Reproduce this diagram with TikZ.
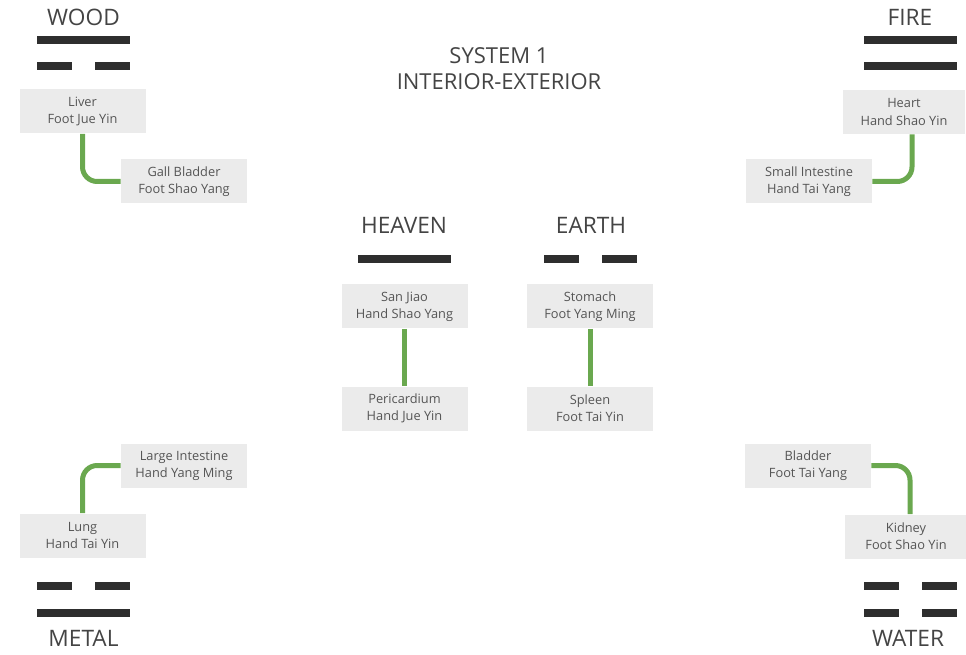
\documentclass[tikz,border=0pt]{standalone}
\usepackage{fontspec}
\setmainfont{Open Sans}
\usepackage{xcolor}
\definecolor{boxgray}{HTML}{EBEBEB}
\definecolor{boxtext}{HTML}{555555}
\definecolor{headtext}{HTML}{444444}
\definecolor{barcol}{HTML}{2E2E2E}
\definecolor{linkgreen}{HTML}{6AA84F}

% trigram lines: full (yang) and broken (yin), centred at (x,y)
\newcommand{\yangline}[2]{\fill[barcol] (#1-46.5,#2-4) rectangle (#1+46.5,#2+4);}
\newcommand{\yinline}[2]{%
  \fill[barcol] (#1-46.5,#2-4) rectangle (#1-11.5,#2+4);
  \fill[barcol] (#1+11.5,#2-4) rectangle (#1+46.5,#2+4);}

\begin{document}
\begin{tikzpicture}[x=0.75pt, y=-0.75pt,
  organ/.style={fill=boxgray, minimum width=94.5pt, minimum height=33pt,
                inner sep=1pt, align=center, text=boxtext,
                font=\fontsize{9.6}{12.8}\selectfont},
  phase/.style={text=headtext, font=\fontsize{17}{20}\selectfont},
  link/.style={draw=linkgreen, line width=3.75pt, rounded corners=11pt}]
  \useasboundingbox (0,0) rectangle (966,655);

  % title
  \node[phase, align=center, font=\fontsize{16.5}{19.5}\selectfont] (title) at (499,69)
    {SYSTEM 1\\INTERIOR-EXTERIOR};

  % wood
  \node[phase] (wood) at (83.5,17) {WOOD};
  \yangline{83.5}{40}
  \yinline{83.5}{66}
  \node[organ] (liver) at (82.5,111.5) {Liver\\Foot Jue Yin};
  \node[organ] (gall) at (184,181.5) {Gall Bladder\\Foot Shao Yang};
  \draw[link] (liver.south) |- (gall.west);

  % fire
  \node[phase] (fire) at (910,17) {FIRE};
  \yangline{910}{40}
  \yangline{910}{66}
  \node[organ, minimum width=92pt] (heart) at (904,112) {Heart\\Hand Shao Yin};
  \node[organ] (smallint) at (809,181.5) {Small Intestine\\Hand Tai Yang};
  \draw[link] ([xshift=6pt]heart.south) |- (smallint.east);

  % heaven and earth
  \node[phase] (heaven) at (404,225) {HEAVEN};
  \yangline{404.5}{259}
  \node[organ] (sanjiao) at (404.5,306.5) {San Jiao\\Hand Shao Yang};
  \node[organ] (peric) at (404.5,408.5) {Pericardium\\Hand Jue Yin};
  \draw[link] (sanjiao) -- (peric);

  \node[phase] (earth) at (591,225) {EARTH};
  \yinline{590}{259}
  \node[organ] (stomach) at (590,306.5) {Stomach\\Foot Yang Ming};
  \node[organ] (spleen) at (590,408.5) {Spleen\\Foot Tai Yin};
  \draw[link] (stomach) -- (spleen);

  % metal
  \node[organ] (largeint) at (184,465.5) {Large Intestine\\Hand Yang Ming};
  \node[organ] (lung) at (82.5,535.5) {Lung\\Hand Tai Yin};
  \draw[link] (lung.north) |- (largeint.west);
  \yinline{83.5}{586}
  \yangline{83.5}{612.5}
  \node[phase] (metal) at (83.5,638) {METAL};

  % water
  \node[organ] (bladder) at (808,465.5) {Bladder\\Foot Tai Yang};
  \node[organ, minimum width=91pt] (kidney) at (906,536.5) {Kidney\\Foot Shao Yin};
  \draw[link] (bladder.east) -| ([xshift=3pt]kidney.north);
  \yinline{910}{586}
  \yinline{910}{612.5}
  \node[phase] (water) at (908,638) {WATER};
\end{tikzpicture}
\end{document}
